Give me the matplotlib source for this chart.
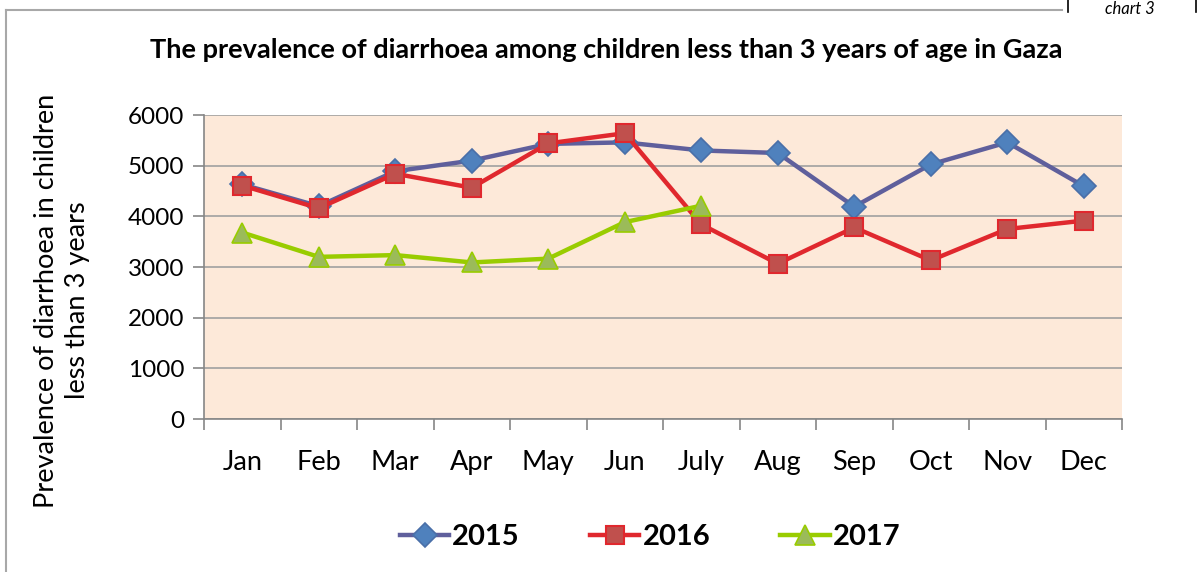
import matplotlib.pyplot as plt
from matplotlib.lines import Line2D

months = ["Jan", "Feb", "Mar", "Apr", "May", "Jun", "July", "Aug", "Sep", "Oct", "Nov", "Dec"]
y2015 = [4630, 4200, 4890, 5100, 5430, 5460, 5300, 5250, 4190, 5025, 5460, 4595]
y2016 = [4608, 4160, 4840, 4565, 5440, 5640, 3840, 3065, 3780, 3130, 3750, 3915]
y2017 = [3680, 3200, 3235, 3090, 3165, 3885, 4210]

plt.rcParams['font.family'] = ['Lato', 'DejaVu Sans']

fig = plt.figure(figsize=(11.98, 5.72), dpi=100)
W, H = 1198, 572
ax = fig.add_axes([204 / W, 1 - 419 / H, (1122 - 204) / W, (419 - 115) / H])
ax.set_facecolor('#FDE9D9')

x = list(range(len(months)))
ax.plot(x, y2015, color='#5F5F9C', lw=3.2, marker='D', ms=12.5, mfc='#4F81BD',
        mec='#4A6FA8', mew=1.2, zorder=3, label='2015')
ax.plot(x, y2016, color='#E0282E', lw=3.2, marker='s', ms=13.5, mfc='#C0504D',
        mec='#E0282E', mew=1.5, zorder=4, label='2016')
ax.plot(x[:len(y2017)], y2017, color='#99CC00', lw=3.2, marker='^', ms=15, mfc='#9BBB59',
        mec='#99CC00', mew=1.2, zorder=5, label='2017')

ax.set_xlim(-0.5, len(months) - 0.5)
ax.set_ylim(0, 6000)
ax.set_yticks(range(0, 6001, 1000))
ax.grid(axis='y', color='#A0A0A0', lw=1.2)
ax.set_axisbelow(True)

ax.set_xticks([i - 0.5 for i in range(len(months) + 1)])
ax.set_xticklabels([])
ax.set_xticks(x, minor=True)
ax.set_xticklabels(months, minor=True, fontsize=19.5)
ax.tick_params(axis='x', which='minor', length=0, pad=22)
ax.tick_params(axis='x', which='major', length=8, color='#868686', width=1.2)
ax.tick_params(axis='y', length=8, color='#868686', width=1.2, labelsize=17.5, pad=6)

for s in ['top', 'right']:
    ax.spines[s].set_visible(False)
for s in ['left', 'bottom']:
    ax.spines[s].set_color('#868686')
    ax.spines[s].set_linewidth(1.2)

ax.set_ylabel("Prevalence of diarrhoea in children\nless than 3 years", fontsize=19.5,
              linespacing=1.3)
ax.yaxis.set_label_coords(-0.124, 0.39)

fig.text(606 / W, 1 - 50 / H, "The prevalence of diarrhoea among children less than 3 years of age in Gaza",
         ha='center', va='center', fontsize=19.5, fontweight='bold')

leg = fig.legend(handles=ax.get_lines(), loc='center', bbox_to_anchor=(650 / W, 1 - 537 / H),
                 ncol=3, frameon=False, prop={'weight': 'bold', 'size': 21},
                 handlelength=1.7, handletextpad=0.1, columnspacing=2.4)

# page border and caption fragment
fig.add_artist(Line2D([6 / W, 6 / W], [0, 1 - 10 / H], color='#A8A8A8', lw=1.5))
fig.add_artist(Line2D([6 / W, 1062 / W], [1 - 10 / H, 1 - 10 / H], color='#A8A8A8', lw=1.5))
fig.add_artist(Line2D([1068 / W, 1068 / W], [1 - 12 / H, 1], color='black', lw=1.2))
fig.add_artist(Line2D([1196 / W, 1196 / W], [1 - 12 / H, 1], color='black', lw=1.2))
fig.text(1130 / W, 1 - 1 / H, "chart 3", ha='center', va='top', fontsize=12, style='italic')

fig.savefig('out.png', dpi=100)
